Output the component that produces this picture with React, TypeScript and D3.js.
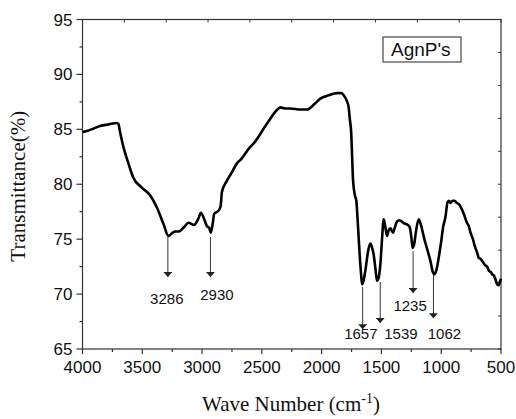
import React from 'react';
import * as d3 from 'd3';

const waveNumbers = [4000,3950,3910,3853,3780,3714,3700,3686,3658,3616,3575,3504,3435,3379,3323,3282,3250,3226,3198,3150,3114,3066,3030,3010,2985,2960,2940,2927,2910,2899,2863,2845,2834,2793,2750,2709,2681,2597,2570,2458,2370,2346,2300,2263,2180,2123,2060,2011,1940,1872,1835,1816,1790,1774,1765,1754,1737,1722,1710,1695,1682,1670,1662,1650,1635,1610,1593,1580,1565,1550,1537,1525,1509,1495,1481,1470,1453,1440,1425,1415,1403,1390,1375,1360,1342,1320,1300,1280,1264,1250,1239,1225,1210,1188,1170,1141,1115,1090,1070,1057,1040,1021,1000,984,965,946,935,923,905,889,870,853,835,811,785,770,755,735,720,700,686,670,650,630,615,600,585,574,560,545,532,520,510,500];
const transmittance = [84.75,84.9,85.06,85.3,85.45,85.58,85.5,84.75,83.4,81.9,80.6,79.7,79.0,77.9,76.4,75.3,75.55,75.7,75.7,76.1,76.5,76.3,76.9,77.4,76.9,76.2,76.0,75.6,76.5,77.3,77.6,78.0,79.3,80.3,81.1,81.9,82.2,83.4,83.7,85.5,86.8,87.0,86.9,86.9,86.8,86.8,87.3,87.8,88.1,88.3,88.3,88.1,87.6,87.0,86.0,84.9,80.3,79.0,78.5,76.0,73.6,71.8,70.9,71.2,72.1,74.0,74.6,74.3,73.6,72.3,71.2,71.4,72.7,75.0,76.8,76.3,75.3,75.8,76.0,75.8,75.6,76.0,76.5,76.7,76.7,76.5,76.4,76.3,76.1,75.2,74.2,74.6,75.8,76.8,76.3,75.0,74.0,73.0,72.0,71.8,72.2,73.3,74.8,76.1,77.0,78.4,78.5,78.3,78.5,78.5,78.3,78.2,77.9,77.3,76.5,76.2,75.6,75.0,74.4,73.8,73.3,73.2,72.9,72.6,72.5,72.1,72.0,71.8,71.7,71.3,70.9,70.8,71.1,71.4];

const xTicks = [4000,3500,3000,2500,2000,1500,1000,500];
const xMinorTicks = [3750,3250,2750,2250,1750,1250,750];
const yTicks = [65,70,75,80,85,90,95];
const yMinorTicks = [67.5,72.5,77.5,82.5,87.5,92.5];

const peakLabels = ['3286','2930','1657','1539','1235','1062'];
const arrowWn = [3286,2930,1657,1510,1235,1065];
const arrowFrom = [75.2,75.2,70.65,71.1,73.9,71.74];
const arrowTo = [71.56,71.56,66.8,67.37,70.1,67.8];
const labelWn = [3295,2876,1672,1337,1260,973];
const labelT = [69.1,69.46,65.87,65.87,68.46,65.87];

const legendText = "AgnP's";

export default function App() {
  const W = 516, H = 419;
  const left = 82.5, right = 501, top = 19.5, bottom = 349;
  const x = d3.scaleLinear().domain([4000, 500]).range([left, right]);
  const y = d3.scaleLinear().domain([65, 95]).range([bottom, top]);
  const pts = waveNumbers.map((w, i) => [w, transmittance[i]] as [number, number]);
  const line = d3.line<[number, number]>().x(d => x(d[0])).y(d => y(d[1])).curve(d3.curveMonotoneX);
  const axisColor = '#333';
  const sans = "'Liberation Sans', Arial, sans-serif";
  const serif = "'Liberation Serif', 'Times New Roman', serif";
  const topTicks = d3.range(11).map(i => left + (right - left) * i / 10);
  const rightTicks = d3.range(11).map(i => top + (bottom - top) * i / 10);

  return (
    <svg width={W} height={H} style={{ position: 'absolute', left: 0, top: 0, background: '#fff' }}>
      <defs>
        <marker id="ah" viewBox="0 0 10 10" refX="10" refY="5" markerWidth="5" markerHeight="9" markerUnits="userSpaceOnUse" orient="auto" preserveAspectRatio="none">
          <path d="M0,0 L10,5 L0,10 Z" fill="#222" />
        </marker>
      </defs>
      <rect x={left} y={top} width={right - left} height={bottom - top} fill="none" stroke={axisColor} strokeWidth={1.2} />
      {xTicks.map(t => (
        <g key={'xt' + t}>
          <line x1={x(t)} x2={x(t)} y1={bottom} y2={bottom + 5} stroke={axisColor} strokeWidth={1.2} />
          <text x={x(t)} y={bottom + 24} textAnchor="middle" fontFamily={sans} fontSize={17} fill="#111">{t}</text>
        </g>
      ))}
      {xMinorTicks.map(t => (
        <line key={'xm' + t} x1={x(t)} x2={x(t)} y1={bottom} y2={bottom + 3} stroke={axisColor} strokeWidth={1.2} />
      ))}
      {yTicks.map(t => (
        <g key={'yt' + t}>
          <line x1={left - 6} x2={left} y1={y(t)} y2={y(t)} stroke={axisColor} strokeWidth={1.2} />
          <text x={left - 10} y={y(t) + 6} textAnchor="end" fontFamily={sans} fontSize={17} fill="#111">{t}</text>
        </g>
      ))}
      {yMinorTicks.map(t => (
        <line key={'ym' + t} x1={left - 3} x2={left} y1={y(t)} y2={y(t)} stroke={axisColor} strokeWidth={1.2} />
      ))}
      {topTicks.map((px, i) => (
        <line key={'tt' + i} x1={px} x2={px} y1={top} y2={top + 3} stroke={axisColor} strokeWidth={1} />
      ))}
      {rightTicks.map((py, i) => (
        <line key={'rt' + i} x1={right - 3} x2={right} y1={py} y2={py} stroke={axisColor} strokeWidth={1} />
      ))}
      <path d={line(pts) || ''} fill="none" stroke="#000" strokeWidth={2.6} strokeLinejoin="round" />
      {peakLabels.map((lab, i) => (
        <g key={'pk' + i}>
          <line x1={x(arrowWn[i])} x2={x(arrowWn[i])} y1={y(arrowFrom[i])} y2={y(arrowTo[i])} stroke="#333" strokeWidth={1} markerEnd="url(#ah)" />
          <text x={x(labelWn[i])} y={y(labelT[i])} textAnchor="middle" fontFamily={sans} fontSize={15} fill="#111">{lab}</text>
        </g>
      ))}
      <rect x={383} y={37} width={78} height={25} fill="#fff" stroke="#222" strokeWidth={1} />
      <text x={391} y={56} fontFamily={sans} fontSize={19} fill="#111">{legendText}</text>
      <text x={291} y={411} textAnchor="middle" fontFamily={serif} fontSize={21} fill="#111">
        Wave Number (cm<tspan dy={-8} fontSize={14}>-1</tspan><tspan dy={8}>)</tspan>
      </text>
      <text transform={`translate(25,${(top + bottom) / 2 + 2}) rotate(-90)`} textAnchor="middle" fontFamily={serif} fontSize={21} fill="#111">Transmittance(%)</text>
    </svg>
  );
}
